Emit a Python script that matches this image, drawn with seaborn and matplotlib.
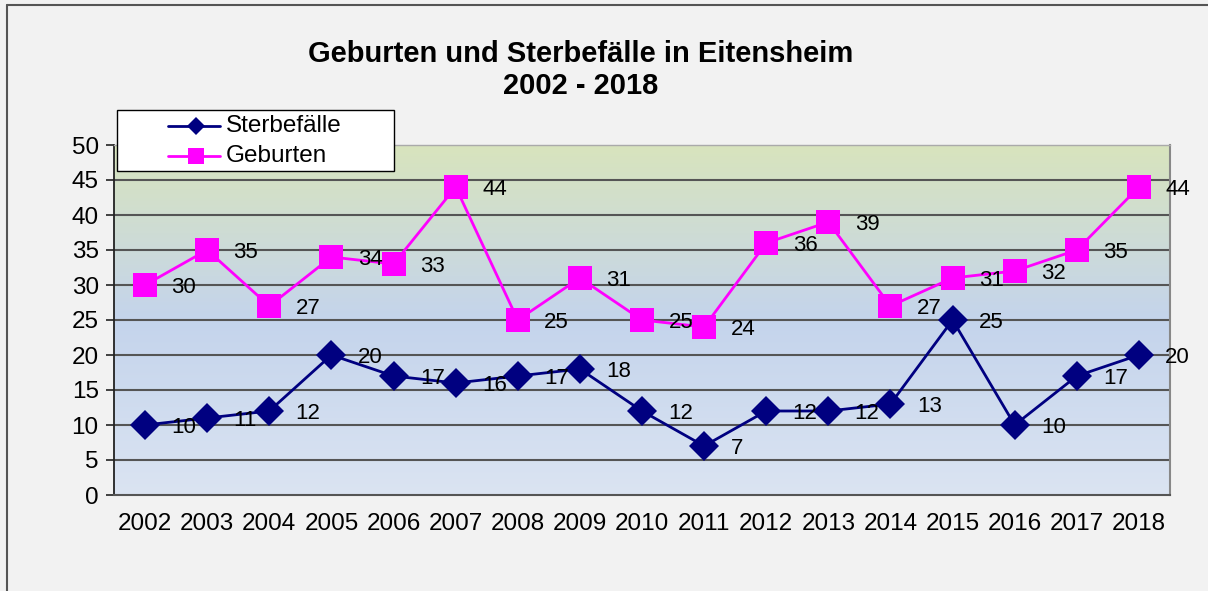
import numpy as np
import pandas as pd
import matplotlib
matplotlib.use("Agg")
import matplotlib.pyplot as plt
from matplotlib.colors import LinearSegmentedColormap
from matplotlib.lines import Line2D
from matplotlib.patches import Rectangle
import seaborn as sns

years = [2002, 2003, 2004, 2005, 2006, 2007, 2008, 2009, 2010,
         2011, 2012, 2013, 2014, 2015, 2016, 2017, 2018]
sterbefaelle = [10, 11, 12, 20, 17, 16, 17, 18, 12, 7, 12, 12, 13, 25, 10, 17, 20]
geburten = [30, 35, 27, 34, 33, 44, 25, 31, 25, 24, 36, 39, 27, 31, 32, 35, 44]
y_ticks = [0, 5, 10, 15, 20, 25, 30, 35, 40, 45, 50]

data = pd.DataFrame({"pos": range(len(years)), "Sterbefälle": sterbefaelle, "Geburten": geburten})

sns.set_style("white")
plt.rcParams["font.family"] = ["Liberation Sans", "DejaVu Sans"]
plt.rcParams["text.color"] = "black"
plt.rcParams["xtick.color"] = "black"
plt.rcParams["ytick.color"] = "black"

W, H = 1208, 591
fig = plt.figure(figsize=(12.08, 5.91), dpi=100, facecolor="#f2f2f2")
ax = fig.add_axes([114/W, 1-495/H, (1170-114)/W, (495-145)/H])

# plot area gradient (green on top -> blue -> light blue at bottom)
grad_cmap = LinearSegmentedColormap.from_list(
    "bg", [(0.0, "#dbe4f2"), (0.5, "#c4d4ec"), (1.0, "#d8e4bd")])
grad = np.linspace(0, 1, 256).reshape(-1, 1)
ax.imshow(grad, cmap=grad_cmap, aspect="auto", origin="lower",
          extent=(-0.5, len(years) - 0.5, 0, 50), zorder=0)

for v in y_ticks[1:-1]:
    ax.axhline(v, color="#555555", lw=1.5, zorder=1)

sns.lineplot(data=data, x="pos", y="Sterbefälle", ax=ax, color="#000080", lw=2,
             marker="D", markersize=15.5, markeredgewidth=0, zorder=3)
sns.lineplot(data=data, x="pos", y="Geburten", ax=ax, color="#ff00ff", lw=2,
             marker="s", markersize=17.5, markeredgewidth=0, zorder=3)

for i in range(len(years)):
    for val in (sterbefaelle[i], geburten[i]):
        ax.annotate(str(val), (i, val), xytext=(19, -1.5), textcoords="offset points",
                    ha="left", va="center", fontsize=16, color="black", zorder=4)

ax.set_xlim(-0.5, len(years) - 0.5)
ax.set_ylim(0, 50)
ax.set_yticks(y_ticks)
ax.set_yticklabels([str(t) for t in y_ticks], fontsize=17.5)
ax.set_xticks(range(len(years)))
ax.set_xticklabels([str(y) for y in years], fontsize=17.5)
ax.set_xticks(np.arange(-0.5, len(years)), minor=True)
ax.tick_params(axis="x", which="major", length=0, pad=13)
ax.tick_params(axis="x", which="minor", length=6, width=1.2, color="#444444", direction="out")
ax.tick_params(axis="y", length=6, width=1.2, color="#222222", direction="out", pad=5, left=True)
ax.set_xlabel("")
ax.set_ylabel("")

ax.spines["left"].set_color("#222222")
ax.spines["left"].set_linewidth(1.3)
ax.spines["bottom"].set_color("#555555")
ax.spines["bottom"].set_linewidth(1.5)
ax.spines["right"].set_color("#888888")
ax.spines["right"].set_linewidth(1.5)
ax.spines["top"].set_color("#aaaaaa")
ax.spines["top"].set_linewidth(1)

fig.text(581/W, 1-70/H, "Geburten und Sterbefälle in Eitensheim\n2002 - 2018",
         ha="center", va="center", fontsize=21, fontweight="bold", linespacing=1.2)

# legend box drawn like the spreadsheet legend
fig.add_artist(Rectangle((117/W, 1-171/H), (394-117)/W, (171-110)/H, facecolor="white",
                         edgecolor="black", lw=1, zorder=10))
legend_rows = [("Sterbefälle", "#000080", "D", 9, 126), ("Geburten", "#ff00ff", "s", 11, 156)]
for label, col, mk, ms, ypx in legend_rows:
    fig.add_artist(Line2D([168/W, 220/W], [1-ypx/H, 1-ypx/H], color=col, lw=2, zorder=11))
    fig.add_artist(Line2D([196/W], [1-ypx/H], color=col, marker=mk, markersize=ms,
                          markeredgewidth=0, zorder=12))
    fig.text(226/W, 1-ypx/H, label, ha="left", va="center", fontsize=17.5, zorder=12)

# outer chart border (top and left visible)
fig.add_artist(Line2D([7/W, 7/W], [0, 1-5/H], color="#555555", lw=1.5))
fig.add_artist(Line2D([7/W, 1], [1-5/H, 1-5/H], color="#555555", lw=1.5))

fig.savefig("out.png", dpi=100, facecolor=fig.get_facecolor())
